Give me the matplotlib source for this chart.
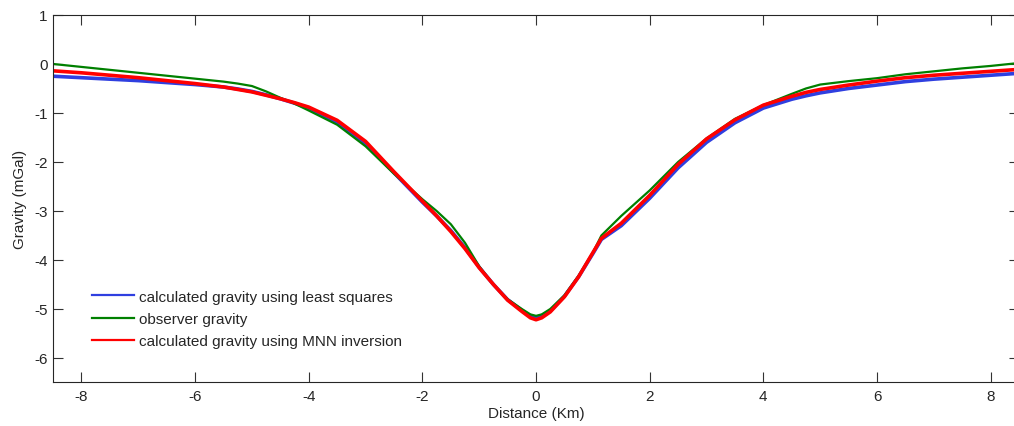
import matplotlib.pyplot as plt

plt.rcParams["font.family"] = ["Liberation Sans", "DejaVu Sans"]

# distance along the profile (km)
x_km = [-8.5, -8, -7.5, -7, -6.5, -6, -5.5, -5.25, -5, -4.75, -4.5, -4.25, -4,
        -3.5, -3, -2.5, -2, -1.75, -1.5, -1.25, -1, -0.75, -0.5, -0.25, -0.1,
        0, 0.1, 0.25, 0.5, 0.75, 1, 1.15, 1.5, 2, 2.5, 3, 3.5, 4, 4.5, 4.75,
        5, 5.5, 6, 6.5, 7, 7.5, 8, 8.5]

# calculated gravity using least squares (mGal)
g_lsq = [-0.25, -0.28, -0.31, -0.34, -0.38, -0.42, -0.47, -0.51, -0.56, -0.63,
         -0.71, -0.80, -0.90, -1.19, -1.62, -2.22, -2.82, -3.10, -3.40, -3.75,
         -4.15, -4.50, -4.81, -5.03, -5.14, -5.18, -5.14, -5.04, -4.74, -4.34,
         -3.87, -3.58, -3.30, -2.74, -2.12, -1.60, -1.20, -0.90, -0.72, -0.65,
         -0.59, -0.50, -0.43, -0.36, -0.31, -0.27, -0.23, -0.19]

# observer gravity (mGal)
g_obs = [0.00, -0.06, -0.12, -0.18, -0.24, -0.30, -0.36, -0.40, -0.45, -0.56,
         -0.69, -0.81, -0.95, -1.24, -1.68, -2.24, -2.76, -3.00, -3.27, -3.65,
         -4.13, -4.50, -4.80, -5.00, -5.11, -5.14, -5.11, -5.00, -4.72, -4.32,
         -3.85, -3.50, -3.10, -2.58, -2.00, -1.52, -1.12, -0.84, -0.61, -0.50,
         -0.42, -0.35, -0.29, -0.21, -0.15, -0.09, -0.04, 0.02]

# calculated gravity using MNN inversion (mGal)
g_mnn = [-0.14, -0.18, -0.23, -0.28, -0.34, -0.40, -0.47, -0.52, -0.57, -0.64,
         -0.71, -0.79, -0.88, -1.15, -1.58, -2.20, -2.80, -3.10, -3.42, -3.77,
         -4.16, -4.50, -4.82, -5.05, -5.18, -5.22, -5.18, -5.06, -4.75, -4.34,
         -3.85, -3.56, -3.25, -2.68, -2.05, -1.53, -1.14, -0.84, -0.66, -0.58,
         -0.52, -0.43, -0.35, -0.28, -0.23, -0.19, -0.15, -0.11]

x_ticks = [-8, -6, -4, -2, 0, 2, 4, 6, 8]
y_ticks = [1, 0, -1, -2, -3, -4, -5, -6]

fig = plt.figure(figsize=(10.14, 4.27), dpi=100)
ax = fig.add_axes([0.0523, 0.1019, 0.9527, 0.8607])

ax.plot(x_km, g_lsq, color="#2f3fe0", lw=2.6,
        label="calculated gravity using least squares")
ax.plot(x_km, g_obs, color="#008000", lw=1.6, label="observer gravity")
ax.plot(x_km, g_mnn, color="#ff0000", lw=2.6,
        label="calculated gravity using MNN inversion")

ax.set_xlim(-8.5, 8.5)
ax.set_ylim(-6.5, 1)
ax.set_xticks(x_ticks)
ax.set_yticks(y_ticks)
ax.set_xticklabels([str(v) for v in x_ticks])
ax.set_yticklabels([str(v) for v in y_ticks])
ax.tick_params(direction="in", length=7, width=0.8, top=True, right=True,
               labelsize=11, colors="#333333", labelcolor="#262626")
ax.tick_params(axis="x", pad=5)
ax.tick_params(axis="y", pad=4)
for sp in ax.spines.values():
    sp.set_linewidth(0.8)
    sp.set_color("#262626")

ax.set_xlabel("Distance (Km)", fontsize=11, color="#262626", labelpad=2)
ax.set_ylabel("Gravity (mGal)", fontsize=11, color="#262626", labelpad=5)

leg = ax.legend(loc="upper left", bbox_to_anchor=(0.040, 0.253), frameon=False,
                fontsize=11, handlelength=2.8, handletextpad=0.28,
                labelspacing=0.55, borderpad=0, borderaxespad=0)
for h in leg.get_lines():
    h.set_linewidth(1.6)
for t in leg.get_texts():
    t.set_color("#262626")

fig.savefig("out.png", dpi=100)
